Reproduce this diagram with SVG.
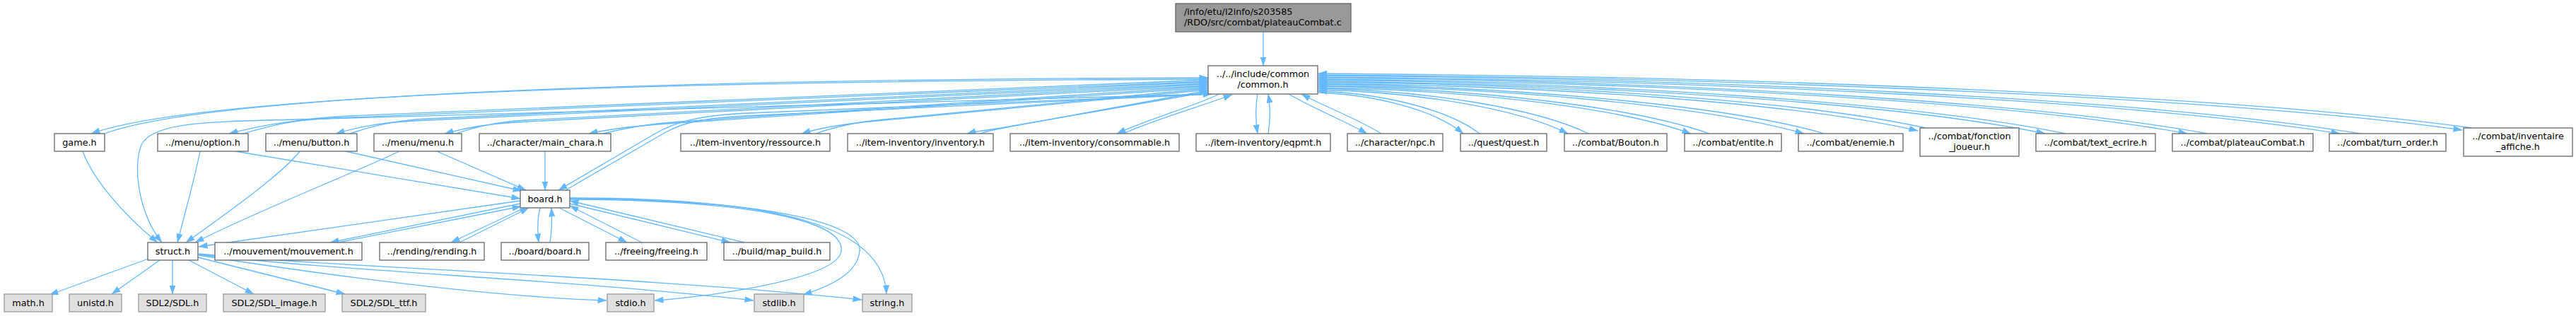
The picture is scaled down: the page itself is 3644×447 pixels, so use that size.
<svg xmlns="http://www.w3.org/2000/svg" width="3644" height="447" viewBox="0 0 3644 447">
<style>
.n rect{fill:#ffffff;stroke:#666666;stroke-width:1.3}
.s rect{fill:#e0e0e0;stroke:#999999;stroke-width:1.3}
.r rect{fill:#999999;stroke:#666666;stroke-width:1.3}
text{font-family:"DejaVu Sans","Liberation Sans",sans-serif;font-size:12.8px;fill:#000;text-anchor:middle}
#edges path{fill:none;stroke:#63b8ff;stroke-width:1.3;marker-end:url(#a)}
</style>
<defs>
<marker id="a" markerUnits="userSpaceOnUse" markerWidth="13" markerHeight="9" refX="12.5" refY="4.5" orient="auto"><path d="M0,0 L13,4.5 L0,9 z" fill="#63b8ff"/></marker>
</defs>
<rect width="3644" height="447" fill="#ffffff"/>
<g id="edges">
<path d="M1787,45 L1787,93"/>
<!-- left row-2 -->
<path d="M1709,112 C1093,114 303,127 129,189"/>
<path d="M148,189 C320,126 1100,112 1709,110"/>
<path d="M1709,115 L474,167 C399,170.3 354,181.3 324,189"/>
<path d="M344,189 C374,180.2 419,167 494,164 L1709,113"/>
<path d="M1709,118 L585,171 C530,173.7 497,182.7 475,189"/>
<path d="M495,189 C517,181.8 550,170.5 605,168 L1709,116"/>
<path d="M1709,121 L729,173 C679,175.8 649,183.4 629,189"/>
<path d="M645,189 C665,182.6 695,172.5 745,170 L1709,119"/>
<path d="M1709,124 L943,175 C888,178.8 855,184.1 833,189"/>
<path d="M853,189 C875,183.4 908,175.5 963,172 L1709,122"/>
<path d="M1709,127 L1230,172 C1182,176.7 1153,183 1134,189"/>
<path d="M1154,189 C1173,182.2 1202,173.4 1250,169 L1709,125"/>
<path d="M1709,130 L1428,179 C1398,184.4 1380,185.5 1368,189"/>
<path d="M1386,189 C1398,185 1416,181.2 1446,176 L1709,128"/>
<path d="M1725,133 C1690,150 1620,170 1580,189"/>
<path d="M1589,189 C1630,170 1700,150 1743,134"/>
<path d="M1779,133 C1776,150 1776,170 1779,189"/>
<path d="M1794,189 C1797,170 1797,150 1794,133"/>
<!-- right row-2 -->
<path d="M1823,133 C1855,152 1900,170 1934,189"/>
<path d="M1954,189 C1920,168 1872,150 1841,133"/>
<path d="M1865,131 C1945,134 2029,155 2070,189"/>
<path d="M2093,189 C2047,154 1954,132 1865,129"/>
<path d="M1865,127 C2003,130 2147,153 2218,189"/>
<path d="M2247,189 C2171,152 2014,128 1865,125"/>
<path d="M1865,124 C2071,127 2287,151 2392,189"/>
<path d="M2418,189 C2307,150 2081,125 1865,122"/>
<path d="M1865,121 C2133,124 2415,150 2552,189"/>
<path d="M2581,189 C2438,148 2144,123 1865,119"/>
<path d="M1865,118 C2196,121 2543,146 2713,185"/>
<path d="M2724,181 C2552,143 2200,119 1865,116"/>
<path d="M1865,115 C2266,119 2687,146 2893,189"/>
<path d="M2922,189 C2711,145 2277,117 1865,113"/>
<path d="M1865,112 C2344,116 2848,144 3094,189"/>
<path d="M3123,189 C2871,143 2356,114 1865,110"/>
<path d="M1865,109 C2429,113 3021,143 3310,189"/>
<path d="M3339,189 C3044,141 2440,111 1865,107"/>
<path d="M1865,106 C2496,110 3159,139 3483,184"/>
<path d="M3497,181 C3171,136 2501,108 1865,104"/>
<!-- common <-> struct / board -->
<path d="M1712,133 L420,169 C300,172 215,172 200,205 C188,235 195,300 229,343"/>
<path d="M1712,133 L1060,160 C990,163 955,172 925,190 L790,269"/>
<path d="M800,269 L940,188 C970,171 1000,166 1075,163 L1714,133"/>
<!-- row-2 to struct / board -->
<path d="M117,214 C130,250 170,300 223,343"/>
<path d="M283,214 C276,250 262,300 251,343"/>
<path d="M424,214 C400,245 330,295 263,343"/>
<path d="M565,214 C500,245 360,300 276,343"/>
<path d="M333,214 L736,281"/>
<path d="M489,214 L738,270"/>
<path d="M618,214 L744,269"/>
<path d="M771,214 L771,269"/>
<!-- board edges -->
<path d="M736,284 L281,349"/>
<path d="M736,288 L467,343"/>
<path d="M478,343 L737,292"/>
<path d="M742,294 L638,343"/>
<path d="M650,343 L748,294"/>
<path d="M764,294 C760,310 760,325 762,343"/>
<path d="M778,343 C781,325 781,310 780,294"/>
<path d="M791,294 L887,343"/>
<path d="M908,343 L806,291"/>
<path d="M806,288 L1033,343"/>
<path d="M1053,343 L806,284"/>
<path d="M806,282 C1050,283 1195,310 1190,355 C1186,395 1000,420 926,425"/>
<path d="M806,281 C1080,282 1220,315 1216,355 C1213,385 1180,403 1136,417"/>
<path d="M806,280 C1100,280 1250,320 1254,416"/>
<!-- struct edges -->
<path d="M210,366 L70,417"/>
<path d="M226,368 L158,416"/>
<path d="M244,368 L244,416"/>
<path d="M267,368 L359,416"/>
<path d="M280,364 L488,416"/>
<path d="M281,361 C500,395 700,420 858,425"/>
<path d="M281,360 C500,385 800,395 1066,425"/>
<path d="M281,359 C500,380 900,390 1219,424"/>
</g>
<g id="root" class="r"><rect x="1663" y="5" width="248" height="40"/><text x="1675" y="20.5" style="text-anchor:start">/info/etu/l2info/s203585</text><text x="1675" y="35.5" style="text-anchor:start">/RDO/src/combat/plateauCombat.c</text></g>
<g id="common" class="n"><rect x="1709" y="93" width="155" height="40"/><text x="1786.5" y="108.5">../../include/common</text><text x="1786.5" y="123.5">/common.h</text></g>
<g id="game" class="n"><rect x="77" y="189" width="71" height="25"/><text x="112.5" y="206">game.h</text></g>
<g id="option" class="n"><rect x="223" y="189" width="128" height="25"/><text x="287" y="206">../menu/option.h</text></g>
<g id="button" class="n"><rect x="376" y="189" width="129" height="25"/><text x="440.5" y="206">../menu/button.h</text></g>
<g id="menu" class="n"><rect x="529" y="189" width="124" height="25"/><text x="591" y="206">../menu/menu.h</text></g>
<g id="main_chara" class="n"><rect x="678" y="189" width="186" height="25"/><text x="771" y="206">../character/main_chara.h</text></g>
<g id="ressource" class="n"><rect x="963" y="189" width="211" height="25"/><text x="1068.5" y="206">../item-inventory/ressource.h</text></g>
<g id="inventory" class="n"><rect x="1199" y="189" width="206" height="25"/><text x="1302" y="206">../item-inventory/inventory.h</text></g>
<g id="consommable" class="n"><rect x="1429" y="189" width="239" height="25"/><text x="1548.5" y="206">../item-inventory/consommable.h</text></g>
<g id="eqpmt" class="n"><rect x="1692" y="189" width="190" height="25"/><text x="1787" y="206">../item-inventory/eqpmt.h</text></g>
<g id="npc" class="n"><rect x="1906" y="189" width="135" height="25"/><text x="1973.5" y="206">../character/npc.h</text></g>
<g id="quest" class="n"><rect x="2066" y="189" width="122" height="25"/><text x="2127" y="206">../quest/quest.h</text></g>
<g id="bouton" class="n"><rect x="2213" y="189" width="145" height="25"/><text x="2285.5" y="206">../combat/Bouton.h</text></g>
<g id="entite" class="n"><rect x="2383" y="189" width="137" height="25"/><text x="2451.5" y="206">../combat/entite.h</text></g>
<g id="enemie" class="n"><rect x="2544" y="189" width="148" height="25"/><text x="2618" y="206">../combat/enemie.h</text></g>
<g id="fonction" class="n"><rect x="2716" y="181" width="140" height="40"/><text x="2786" y="196.5">../combat/fonction</text><text x="2786" y="211.5">_joueur.h</text></g>
<g id="text_ecrire" class="n"><rect x="2880" y="189" width="169" height="25"/><text x="2964.5" y="206">../combat/text_ecrire.h</text></g>
<g id="plateauCombat" class="n"><rect x="3073" y="189" width="199" height="25"/><text x="3172.5" y="206">../combat/plateauCombat.h</text></g>
<g id="turn_order" class="n"><rect x="3295" y="189" width="165" height="25"/><text x="3377.5" y="206">../combat/turn_order.h</text></g>
<g id="inventaire" class="n"><rect x="3485" y="181" width="154" height="40"/><text x="3562" y="196.5">../combat/inventaire</text><text x="3562" y="211.5">_affiche.h</text></g>
<g id="board" class="n"><rect x="736" y="269" width="70" height="25"/><text x="771" y="286">board.h</text></g>
<g id="struct" class="n"><rect x="209" y="343" width="71" height="25"/><text x="244.5" y="360">struct.h</text></g>
<g id="mouvement" class="n"><rect x="304" y="343" width="208" height="25"/><text x="408" y="360">../mouvement/mouvement.h</text></g>
<g id="rending" class="n"><rect x="537" y="343" width="148" height="25"/><text x="611" y="360">../rending/rending.h</text></g>
<g id="boardboard" class="n"><rect x="709" y="343" width="124" height="25"/><text x="771" y="360">../board/board.h</text></g>
<g id="freeing" class="n"><rect x="857" y="343" width="143" height="25"/><text x="928.5" y="360">../freeing/freeing.h</text></g>
<g id="map_build" class="n"><rect x="1024" y="343" width="150" height="25"/><text x="1099" y="360">../build/map_build.h</text></g>
<g id="math" class="s"><rect x="6" y="416" width="68" height="25"/><text x="40" y="433">math.h</text></g>
<g id="unistd" class="s"><rect x="98" y="416" width="74" height="25"/><text x="135" y="433">unistd.h</text></g>
<g id="sdl" class="s"><rect x="196" y="416" width="96" height="25"/><text x="244" y="433">SDL2/SDL.h</text></g>
<g id="sdl_image" class="s"><rect x="316" y="416" width="144" height="25"/><text x="388" y="433">SDL2/SDL_image.h</text></g>
<g id="sdl_ttf" class="s"><rect x="484" y="416" width="118" height="25"/><text x="543" y="433">SDL2/SDL_ttf.h</text></g>
<g id="stdio" class="s"><rect x="859" y="416" width="66" height="25"/><text x="892" y="433">stdio.h</text></g>
<g id="stdlib" class="s"><rect x="1067" y="416" width="70" height="25"/><text x="1102" y="433">stdlib.h</text></g>
<g id="string" class="s"><rect x="1220" y="416" width="70" height="25"/><text x="1255" y="433">string.h</text></g>
</svg>
